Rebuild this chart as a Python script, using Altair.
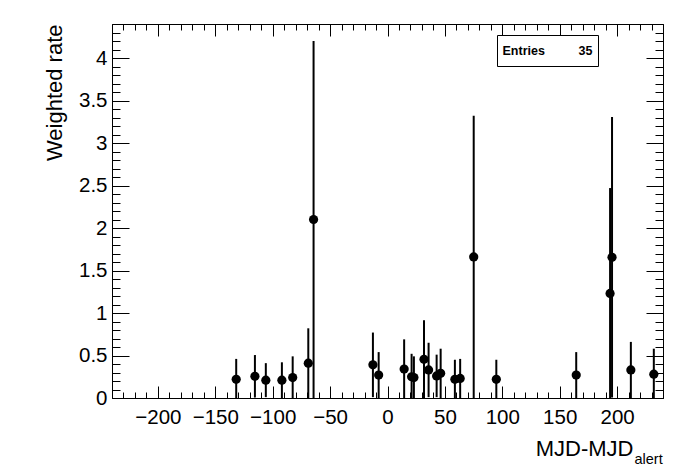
import altair as alt
import pandas as pd

# ---- data ----
mjd = [-131.8, -115.5, -106.0, -92.0, -82.6, -69.0, -64.4,
       -12.7, -7.7, 14.5, 21.0, 23.0, 31.8, 35.8, 42.8, 46.3, 58.7, 63.3, 75.1,
       94.8, 164.4, 193.9, 195.6, 212.0, 232.0]
rate = [0.22, 0.255, 0.21, 0.21, 0.24, 0.41, 2.10,
        0.39, 0.27, 0.34, 0.25, 0.24, 0.455, 0.33, 0.26, 0.29, 0.22, 0.23, 1.66,
        0.22, 0.27, 1.23, 1.655, 0.33, 0.28]
err = [0.24, 0.25, 0.20, 0.21, 0.25, 0.41, 2.10,
       0.38, 0.27, 0.35, 0.27, 0.25, 0.46, 0.32, 0.25, 0.29, 0.23, 0.23, 1.66,
       0.23, 0.27, 1.24, 1.65, 0.33, 0.30]

x_major = [-200, -150, -100, -50, 0, 50, 100, 150, 200]
x_minor = list(range(-240, 241, 10))
y_major = [0, 0.5, 1, 1.5, 2, 2.5, 3, 3.5, 4]
y_minor = [round(i * 0.1, 1) for i in range(0, 45)]
entries_label = "Entries"
entries_value = "35"

df = pd.DataFrame({"x": mjd, "y": rate, "err": err})
df["lo"] = (df["y"] - df["err"]).clip(lower=0)
df["hi"] = df["y"] + df["err"]

W, H = 551, 374
FONT = "Liberation Sans"

xs = alt.Scale(domain=[-240, 240], nice=False, zero=False)
ys = alt.Scale(domain=[0, 4.4], nice=False, zero=False)


def ax(**kw):
    base = dict(grid=False, domain=False, title=None, labels=False, ticks=True,
                tickColor="black", tickWidth=1)
    base.update(kw)
    return alt.Axis(**base)


base = alt.Chart(df)

err_layer = base.mark_rule(color="black", strokeWidth=2).encode(
    x=alt.X("x:Q", scale=xs, axis=ax(orient="bottom", values=x_major, ticks=False,
                                     labels=True, labelFont=FONT, labelFontSize=20.5,
                                     labelColor="black", labelPadding=9, format="d")),
    y=alt.Y("lo:Q", scale=ys, axis=ax(orient="left", values=y_major, ticks=False,
                                      labels=True, labelFont=FONT, labelFontSize=20.5,
                                      labelColor="black", labelPadding=5, format="~g",
                                      title="Weighted rate", titleFont=FONT,
                                      titleFontSize=22, titleFontWeight="normal",
                                      titleColor="black", titleAngle=-90,
                                      titleAlign="right", titleBaseline="alphabetic",
                                      titleX=-51, titleY=0)),
    y2="hi:Q",
)

pts_layer = base.mark_circle(size=85, color="black", opacity=1).encode(
    x=alt.X("x:Q", scale=xs, axis=ax(orient="top", offset=-H, values=x_major, tickSize=12)),
    y=alt.Y("y:Q", scale=ys, axis=ax(orient="right", offset=-W, values=y_major, tickSize=17)),
)

minor_in = base.mark_circle(opacity=0).encode(
    x=alt.X("x:Q", scale=xs, axis=ax(orient="top", offset=-H, values=x_minor, tickSize=6)),
    y=alt.Y("y:Q", scale=ys, axis=ax(orient="right", offset=-W, values=y_minor, tickSize=8)),
)

major_opp = base.mark_circle(opacity=0).encode(
    x=alt.X("x:Q", scale=xs, axis=ax(orient="bottom", offset=-H, values=x_major, tickSize=12)),
    y=alt.Y("y:Q", scale=ys, axis=ax(orient="left", offset=-W, values=y_major, tickSize=17)),
)

minor_opp = base.mark_circle(opacity=0).encode(
    x=alt.X("x:Q", scale=xs, axis=ax(orient="bottom", offset=-H, values=x_minor, tickSize=6)),
    y=alt.Y("y:Q", scale=ys, axis=ax(orient="left", offset=-W, values=y_minor, tickSize=8)),
)

one = pd.DataFrame({"a": [0]})

xtitle_main = alt.Chart(one).mark_text(
    text="MJD-MJD", font=FONT, fontSize=22, align="right", baseline="alphabetic", color="black"
).encode(x=alt.value(521.5), y=alt.value(432))

xtitle_sub = alt.Chart(one).mark_text(
    text="alert", font=FONT, fontSize=14.5, align="left", baseline="alphabetic", color="black"
).encode(x=alt.value(522.5), y=alt.value(439.5))

stat_box = alt.Chart(one).mark_rect(fill="white", stroke="black", strokeWidth=1).encode(
    x=alt.value(385.5), x2=alt.value(486.5), y=alt.value(11.5), y2=alt.value(42.5)
)
stat_lbl = alt.Chart(one).mark_text(
    text=entries_label, font=FONT, fontSize=12.5, fontWeight="bold", align="left",
    baseline="alphabetic", color="black"
).encode(x=alt.value(390.5), y=alt.value(31))
stat_val = alt.Chart(one).mark_text(
    text=entries_value, font=FONT, fontSize=12.5, fontWeight="bold", align="right",
    baseline="alphabetic", color="black"
).encode(x=alt.value(480.5), y=alt.value(31))

chart = alt.layer(
    err_layer, pts_layer, minor_in, major_opp, minor_opp,
    xtitle_main, xtitle_sub, stat_box, stat_lbl, stat_val
).resolve_axis(x="independent", y="independent").properties(
    width=W, height=H, autosize=alt.AutoSizeParams(type="none"),
    padding={"left": 104, "top": 16, "right": 25, "bottom": 68},
    background="white",
).configure_view(stroke="black", strokeWidth=1)

chart.save("out.html", embed_options={"renderer": "svg", "actions": False})
